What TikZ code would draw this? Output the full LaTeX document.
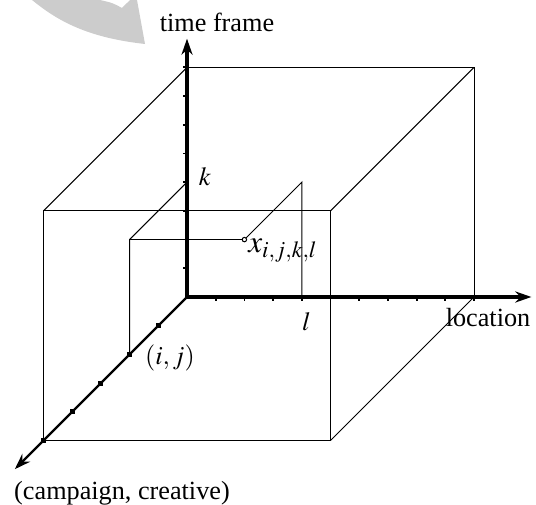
\documentclass[tikz,border=0pt]{standalone}
\usepackage{mathptmx}
\usepackage{fontspec}
\setmainfont{Liberation Serif}
\usetikzlibrary{arrows.meta}

\begin{document}
\begin{tikzpicture}[x=0.5cm, y=0.5cm, z={(-0.5cm,-0.5cm)},
    font=\fontsize{13}{15}\selectfont,
    axis/.style={line width=1.8pt, -{Stealth[length=8pt,width=5.5pt]}},
    edge/.style={line width=0.5pt},
    tick/.style={line width=0.9pt}]

        \useasboundingbox (-6.516,-7.247) rectangle (12.160,10.348);

        % Watermark
        \fill[black!20] (-5.401,10.348) .. controls (-4.6,9.7) and (-3.6,9.05) .. (-1.463,8.815)
            -- (-1.742,10.348) -- (-1.986,10.348) -- (-2.265,10.07)
            .. controls (-2.6,10.25) .. (-3.031,10.348) -- cycle;

        % Corners of the box
        \coordinate (O) at (0,0,0);
        \coordinate (B1) at (10,0,0);
        \coordinate (B2) at (10,8,0);
        \coordinate (B3) at (0,8,0);
        \coordinate (F0) at (0,0,5);
        \coordinate (F1) at (10,0,5);
        \coordinate (F2) at (10,8,5);
        \coordinate (F3) at (0,8,5);

        % Box
        \draw[edge] (F0) rectangle (F2);
        \draw[edge] (B3) -- (B2) -- (B1);
        \draw[edge] (B3) -- (F3);
        \draw[edge] (B2) -- (F2);
        \draw[edge] (B1) -- (F1);

        % Projections of the point
        \coordinate (L) at (4,0,0);
        \coordinate (K) at (0,4,0);
        \coordinate (IJ) at (0,0,2);
        \coordinate (LK) at (4,4,0);
        \coordinate (KIJ) at (0,4,2);
        \coordinate (P) at (4,4,2);
        \draw[edge] (L) -- (LK) -- (P);
        \draw[edge] (K) -- (KIJ) -- (IJ);
        \draw[edge] (KIJ) -- (P);

        % Axes
        \draw[axis] (O) -- (0,9,0) coordinate (Ytip);
        \draw[axis] (O) -- (12,0,0) coordinate (Xtip);
        \draw[axis, line width=1.2pt] (O) -- (0,0,6) coordinate (Ztip);

        % Ticks
        \foreach \t in {1,...,10}
            \draw[tick] (\t,0,0) -- ++(0,-2pt);
        \foreach \t in {1,...,8}
            \draw[tick] (0,\t,0) -- ++(-2pt,0);
        \foreach \t in {1,...,5}
            \fill (0,0,\t) +(-1.2pt,-1.2pt) rectangle +(1.2pt,1.2pt);

        % The point
        \draw[edge, fill=white] (P) circle (1.1pt);

        % Labels
        \node (ylab) at (1.045,9.582) {time frame};
        \node (xlab) at (10.488,-0.732) {location};
        \node (zlab) at (-2.265,-6.829) {(campaign, creative)};
        \node (klab) at (0.627,4.192) {$k$};
        \node (llab) at (4.164,-0.861) {$l$};
        \node (ijlab) at (-0.592,-2.125) {$(i,j)$};
        \node[anchor=base west, inner sep=0pt, xshift=0.06cm, yshift=-0.22cm,
              font=\fontsize{15.5}{18}\selectfont] (plab) at (P) {$x_{i,j,k,l}$};
\end{tikzpicture}
\end{document}
